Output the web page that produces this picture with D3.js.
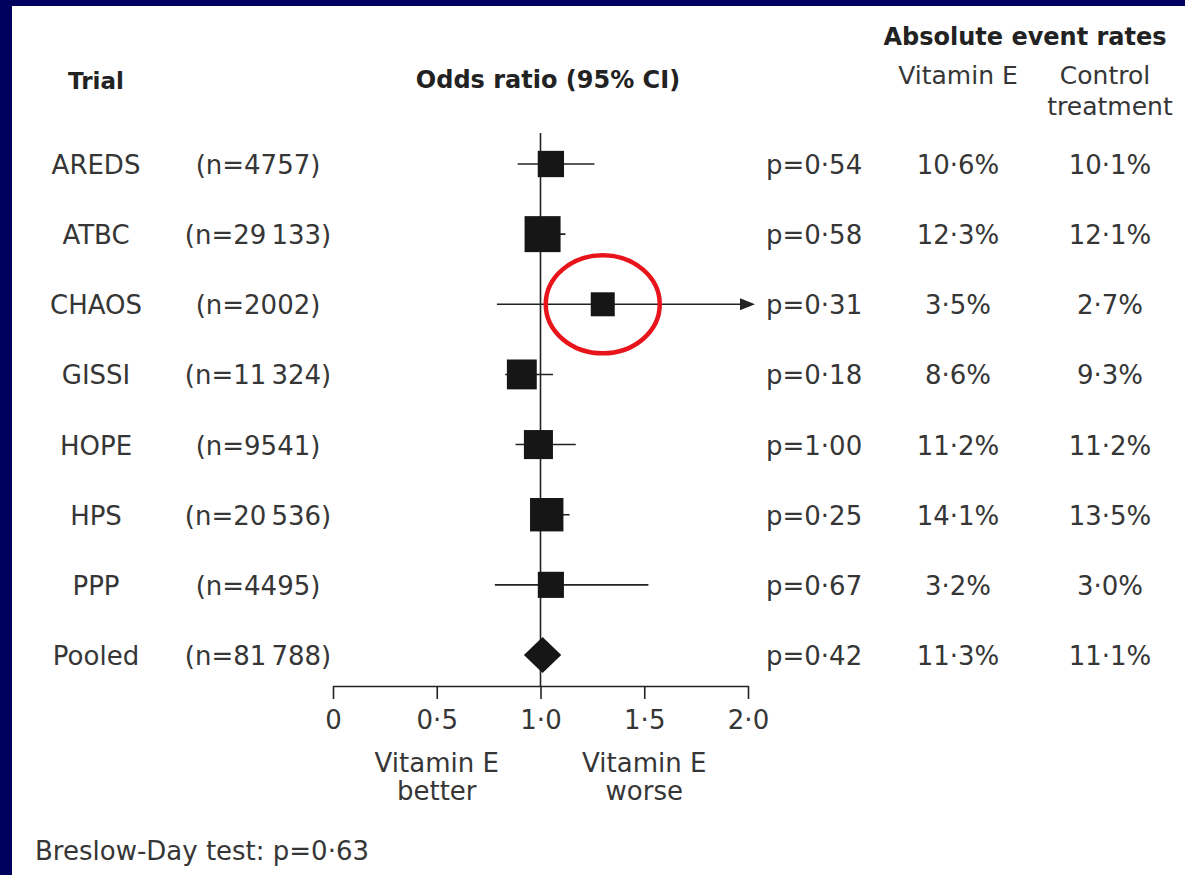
<!DOCTYPE html>
<html>
<head>
<meta charset="utf-8">
<script src="https://cdn.jsdelivr.net/npm/d3@7"></script>
<style>
  html, body { margin: 0; padding: 0; background: #fff; }
  svg { display: block; }
  text { font-family: "DejaVu Sans", Verdana, sans-serif; fill: #363636; }
</style>
</head>
<body>
<div id="chart"></div>
<script>
// trial rows
const trials = ['AREDS', 'ATBC', 'CHAOS', 'GISSI', 'HOPE', 'HPS', 'PPP'];
const sampleSizes = [4757, 29133, 2002, 11324, 9541, 20536, 4495];
const oddsRatios = [1.05, 1.01, 1.30, 0.91, 0.99, 1.03, 1.05];
const ciLower = [0.89, 0.94, 0.79, 0.83, 0.88, 0.95, 0.78];
const ciUpper = [1.26, 1.12, 2.40, 1.06, 1.17, 1.14, 1.52];
const pValues = ['0·54', '0·58', '0·31', '0·18', '1·00', '0·25', '0·67'];
const ratesVitaminE = ['10·6', '12·3', '3·5', '8·6', '11·2', '14·1', '3·2'];
const ratesControl = ['10·1', '12·1', '2·7', '9·3', '11·2', '13·5', '3·0'];

// pooled row
const pooledLabel = 'Pooled';
const pooledN = 81788;
const pooledOR = 1.01;
const pooledLower = 0.92;
const pooledUpper = 1.10;
const pooledP = '0·42';
const pooledVitaminE = '11·3';
const pooledControl = '11·1';

const axisTicks = [0, 0.5, 1.0, 1.5, 2.0];
const highlighted = 'CHAOS';
const breslowDayP = '0·63';

const width = 1185;
const height = 875;
const ink = '#222';

const svg = d3.select('#chart').append('svg')
  .attr('width', width)
  .attr('height', height)
  .attr('viewBox', `0 0 ${width} ${height}`);

// navy frame (top and left edges only)
svg.append('rect').attr('x', 0).attr('y', 0).attr('width', width).attr('height', 6).attr('fill', '#00005e');
svg.append('rect').attr('x', 0).attr('y', 0).attr('width', 12).attr('height', height).attr('fill', '#00005e');

const rows = trials.concat([pooledLabel]);
const x = d3.scaleLinear().domain([0, 2]).range([333, 748]);
const y = d3.scalePoint().domain(rows).range([164, 655]);
const boxSize = d3.scaleSqrt().domain([d3.min(sampleSizes), d3.max(sampleSizes)]).range([24, 36]);

const fmtDot = (s) => String(s).replace('.', '·');
const fmtN = (n) => (n >= 10000 ? d3.format(',')(n).replace(',', '\u2009') : String(n));

// headers
svg.append('text').attr('x', 96).attr('y', 89).attr('text-anchor', 'middle')
  .attr('font-size', '23px').attr('font-weight', 'bold').style('fill', ink).text('Trial');
svg.append('text').attr('x', 548).attr('y', 88).attr('text-anchor', 'middle')
  .attr('font-size', '24px').attr('font-weight', 'bold').style('fill', ink).text('Odds ratio (95% CI)');
svg.append('text').attr('x', 1025).attr('y', 45).attr('text-anchor', 'middle')
  .attr('font-size', '24px').attr('font-weight', 'bold').style('fill', ink).text('Absolute event rates');
svg.append('text').attr('x', 958).attr('y', 84).attr('text-anchor', 'middle')
  .attr('font-size', '25px').text('Vitamin E');
svg.append('text').attr('x', 1105).attr('y', 84).attr('text-anchor', 'middle')
  .attr('font-size', '25px').text('Control');
svg.append('text').attr('x', 1110).attr('y', 115).attr('text-anchor', 'middle')
  .attr('font-size', '25px').text('treatment');

// reference line at OR = 1
svg.append('line')
  .attr('x1', x(1)).attr('x2', x(1))
  .attr('y1', 133).attr('y2', 686)
  .attr('stroke', ink).attr('stroke-width', 1.6);

// x axis
const axis = d3.axisBottom(x)
  .tickValues(axisTicks)
  .tickSize(13)
  .tickSizeOuter(0)
  .tickPadding(12)
  .tickFormat((d) => (d === 0 ? '0' : fmtDot(d3.format('.1f')(d))));

const axisG = svg.append('g').attr('transform', 'translate(0,686)').call(axis);
axisG.select('.domain').attr('stroke', ink).attr('stroke-width', 1.6);
axisG.selectAll('.tick line').attr('stroke', ink).attr('stroke-width', 1.6);
axisG.selectAll('.tick text')
  .attr('font-size', '26px')
  .attr('font-family', '"DejaVu Sans", Verdana, sans-serif')
  .style('fill', '#363636');

// direction labels under the axis
[[0.5, 'better'], [1.5, 'worse']].forEach(([v, word]) => {
  svg.append('text').attr('x', x(v)).attr('y', 772).attr('text-anchor', 'middle')
    .attr('font-size', '26px').text('Vitamin E');
  svg.append('text').attr('x', x(v)).attr('y', 800).attr('text-anchor', 'middle')
    .attr('font-size', '26px').text(word);
});

// trial rows
const rowData = trials.map((t, i) => ({
  name: t, n: sampleSizes[i], or: oddsRatios[i], lo: ciLower[i], hi: ciUpper[i],
  p: pValues[i], ve: ratesVitaminE[i], ctl: ratesControl[i]
}));
const pooled = {
  name: pooledLabel, n: pooledN, or: pooledOR, lo: pooledLower, hi: pooledUpper,
  p: pooledP, ve: pooledVitaminE, ctl: pooledControl
};
const allRows = rowData.concat([pooled]);

const textRows = svg.append('g').selectAll('g').data(allRows).enter().append('g')
  .attr('transform', (d) => `translate(0,${y(d.name) + 10})`);

textRows.append('text').attr('x', 96).attr('text-anchor', 'middle').attr('font-size', '26px').text((d) => d.name);
textRows.append('text').attr('x', 258).attr('text-anchor', 'middle').attr('font-size', '26px').text((d) => `(n=${fmtN(d.n)})`);
textRows.append('text').attr('x', 766).attr('text-anchor', 'start').attr('font-size', '26px').text((d) => `p=${d.p}`);
textRows.append('text').attr('x', 958).attr('text-anchor', 'middle').attr('font-size', '26px').text((d) => `${d.ve}%`);
textRows.append('text').attr('x', 1110).attr('text-anchor', 'middle').attr('font-size', '26px').text((d) => `${d.ctl}%`);

// confidence intervals
const xMax = x.domain()[1];
const marks = svg.append('g');
marks.selectAll('line.ci').data(rowData).enter().append('line')
  .attr('class', 'ci')
  .attr('x1', (d) => x(d.lo))
  .attr('x2', (d) => (d.hi > xMax ? x(xMax) : x(d.hi)))
  .attr('y1', (d) => y(d.name)).attr('y2', (d) => y(d.name))
  .attr('stroke', ink).attr('stroke-width', 1.6);

// arrowheads for intervals running off the axis
marks.selectAll('path.arrow').data(rowData.filter((d) => d.hi > xMax)).enter().append('path')
  .attr('class', 'arrow')
  .attr('d', (d) => {
    const x0 = x(xMax) - 8;
    const yc = y(d.name);
    return `M${x0},${yc - 6}L${x0 + 15},${yc}L${x0},${yc + 6}Z`;
  })
  .attr('fill', ink);

// weighted squares
marks.selectAll('rect.box').data(rowData).enter().append('rect')
  .attr('class', 'box')
  .attr('x', (d) => x(d.or) - boxSize(d.n) / 2)
  .attr('y', (d) => y(d.name) - boxSize(d.n) / 2)
  .attr('width', (d) => boxSize(d.n))
  .attr('height', (d) => boxSize(d.n))
  .attr('fill', '#161616');

// pooled diamond
const py = y(pooled.name);
marks.append('path')
  .attr('d', `M${x(pooled.lo)},${py}L${x(pooled.or)},${py - 18}L${x(pooled.hi)},${py}L${x(pooled.or)},${py + 18}Z`)
  .attr('fill', '#161616');

// red highlight ring
const hl = rowData.find((d) => d.name === highlighted);
svg.append('ellipse')
  .attr('cx', x(hl.or))
  .attr('cy', y(hl.name))
  .attr('rx', 57)
  .attr('ry', 49)
  .attr('fill', 'none')
  .attr('stroke', '#e8141b')
  .attr('stroke-width', 4.5);

// footnote
svg.append('text').attr('x', 35).attr('y', 860).attr('font-size', '26px')
  .text(`Breslow-Day test: p=${breslowDayP}`);
</script>
</body>
</html>
